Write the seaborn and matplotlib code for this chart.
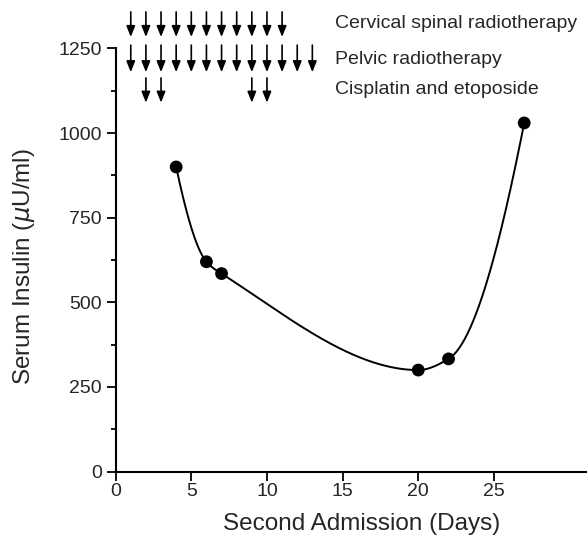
import numpy as np
import pandas as pd
import matplotlib
matplotlib.use('Agg')
import matplotlib.pyplot as plt
import seaborn as sns

# measured serum insulin
days = [4, 6, 7, 20, 22, 27]
insulin = [900, 620, 585, 300, 333, 1030]

# treatment days
cervical_days = [1, 2, 3, 4, 5, 6, 7, 8, 9, 10, 11]
pelvic_days = [1, 2, 3, 4, 5, 6, 7, 8, 9, 10, 11, 12, 13]
chemo_days = [2, 3, 9, 10]
treatments = ['Cervical spinal radiotherapy', 'Pelvic radiotherapy', 'Cisplatin and etoposide']

x_ticks = [0, 5, 10, 15, 20, 25]
y_ticks = [0, 250, 500, 750, 1000, 1250]


def pchip(x, y, xs):
    # shape preserving piecewise cubic through the points
    x = np.asarray(x, float)
    y = np.asarray(y, float)
    h = np.diff(x)
    d = np.diff(y) / h
    n = len(x)
    m = np.zeros(n)
    for i in range(1, n - 1):
        if d[i - 1] * d[i] > 0:
            w1 = 2 * h[i] + h[i - 1]
            w2 = h[i] + 2 * h[i - 1]
            m[i] = (w1 + w2) / (w1 / d[i - 1] + w2 / d[i])

    def end(h0, h1, d0, d1):
        s = ((2 * h0 + h1) * d0 - h0 * d1) / (h0 + h1)
        if np.sign(s) != np.sign(d0):
            s = 0.0
        elif np.sign(d0) != np.sign(d1) and abs(s) > abs(3 * d0):
            s = 3 * d0
        return s

    m[0] = end(h[0], h[1], d[0], d[1])
    m[-1] = end(h[-1], h[-2], d[-1], d[-2])
    out = np.empty_like(xs)
    for k, xv in enumerate(xs):
        i = min(max(np.searchsorted(x, xv) - 1, 0), n - 2)
        t = (xv - x[i]) / h[i]
        out[k] = (2 * t**3 - 3 * t**2 + 1) * y[i] + (t**3 - 2 * t**2 + t) * h[i] * m[i] \
            + (-2 * t**3 + 3 * t**2) * y[i + 1] + (t**3 - t**2) * h[i] * m[i + 1]
    return out


xs = np.linspace(days[0], days[-1], 400)
curve = pd.DataFrame({'day': xs, 'insulin': pchip(days, insulin, xs)})
points = pd.DataFrame({'day': days, 'insulin': insulin})

sns.set_style('ticks')
plt.rcParams['font.family'] = ['Liberation Sans', 'DejaVu Sans']

fig = plt.figure(figsize=(5.87, 5.43), dpi=100)
ax = fig.add_axes([0.197, 0.1315, 0.803, 0.7792])

sns.lineplot(data=curve, x='day', y='insulin', color='black', linewidth=1.4, ax=ax)
sns.scatterplot(data=points, x='day', y='insulin', color='black', s=85, edgecolor='none', zorder=3, ax=ax)

# treatment arrows above the curve
rows = [(cervical_days, 1358, 1284), (pelvic_days, 1260, 1180), (chemo_days, 1163, 1090)]
for ds, top, tip in rows:
    for d in ds:
        ax.annotate('', xy=(d, tip), xytext=(d, top), annotation_clip=False,
                    arrowprops=dict(arrowstyle='-|>,head_length=0.65,head_width=0.26',
                                    color='black', lw=1.2, shrinkA=0, shrinkB=0))

for label, yp in zip(treatments, [24, 59, 90]):
    fig.text(335 / 587, 1 - yp / 543, label, fontsize=14, va='center', ha='left')

ax.set_xlim(0, 31.15)
ax.set_ylim(0, 1250)
ax.set_xticks(x_ticks)
ax.set_yticks(y_ticks)
ax.set_yticks([125, 375, 625, 875, 1125], minor=True)
ax.tick_params(axis='both', which='major', length=6.5, width=1.3, labelsize=14, color='black')
ax.tick_params(axis='y', which='minor', length=3.5, width=1.3, color='black')
ax.tick_params(axis='x', pad=2)
for side in ['left', 'bottom']:
    ax.spines[side].set_linewidth(1.5)
    ax.spines[side].set_color('black')
sns.despine(ax=ax)

ax.set_xlabel('Second Admission (Days)', fontsize=17.5)
ax.set_ylabel(r'Serum Insulin ($\mu$U/ml)', fontsize=17.5)
ax.xaxis.set_label_coords(0.5226, -0.098)
ax.yaxis.set_label_coords(-0.167, 0.485)

fig.savefig('out.png', dpi=100)
